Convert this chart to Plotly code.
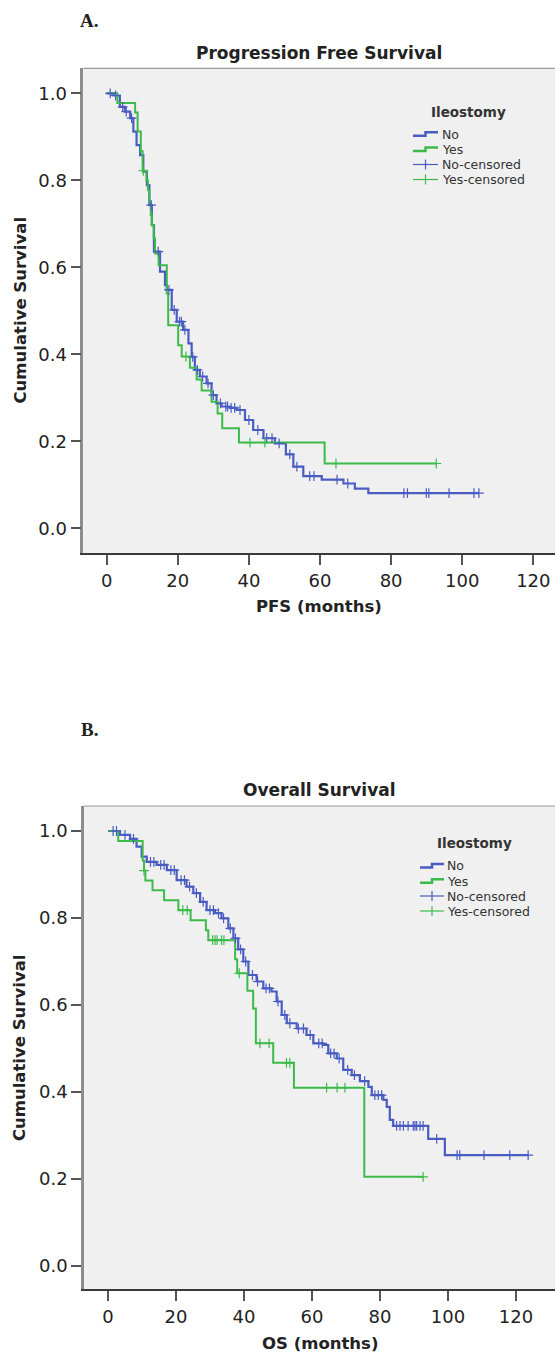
import numpy as np
import plotly.graph_objects as go

W, H = 555, 1357

# ---------------- DATA ----------------
# Panel A: Progression Free Survival
pfs_no_t = [0, 1.9, 3.7, 5.1, 6.6, 7.5, 8.4, 9.4, 10.3, 11.3, 12.0, 12.7, 13.3, 15.0, 16.4,
            16.9, 18.3, 19.7, 21.5, 23.0, 23.9, 24.8, 26.2, 28.1, 29.5, 30.9, 32.3, 34.7, 36.6,
            38.9, 41.2, 44.1, 47.3, 50.4, 52.5, 55.3, 60.5, 66.6, 69.8, 73.6]
pfs_no_s = [1.0, 0.995, 0.969, 0.958, 0.943, 0.912, 0.881, 0.858, 0.820, 0.789, 0.743, 0.697,
            0.636, 0.590, 0.559, 0.548, 0.502, 0.475, 0.456, 0.425, 0.394, 0.364, 0.349, 0.333,
            0.306, 0.287, 0.280, 0.277, 0.272, 0.249, 0.226, 0.207, 0.195, 0.170, 0.142, 0.120,
            0.112, 0.103, 0.091, 0.081]
pfs_no_end = 104.7
pfs_no_cens = [1.0, 2.5, 4.5, 5.5, 7.0, 12.5, 14.5, 17.5, 19.0, 20.5, 21.0, 22.0, 24.2, 25.5,
               27.0, 28.5, 30.0, 32.0, 33.5, 34.0, 35.0, 36.0, 37.5, 40.0, 42.5, 45.0, 46.5,
               48.5, 51.5, 53.5, 57.1, 58.3, 64.8, 67.8, 83.6, 84.6, 89.9, 90.6, 96.3, 103.3, 104.7]

pfs_yes_t = [0, 3.0, 8.0, 8.7, 9.6, 10.1, 11.2, 11.6, 12.0, 12.4, 12.7, 13.2, 13.6, 14.6, 16.9,
             17.3, 20.1, 21.1, 23.4, 25.3, 26.7, 29.5, 31.2, 32.5, 37.2, 61.3]
pfs_yes_s = [1.0, 0.978, 0.956, 0.912, 0.867, 0.822, 0.800, 0.778, 0.751, 0.720, 0.697, 0.667,
             0.632, 0.605, 0.540, 0.467, 0.421, 0.395, 0.369, 0.342, 0.317, 0.291, 0.264, 0.230,
             0.197, 0.149]
pfs_yes_end = 92.7
pfs_yes_cens = [10.3, 22.3, 40.3, 44.5, 64.5, 92.7]

# Panel B: Overall Survival
os_no_t = [0, 3.5, 6.5, 8.4, 9.9, 11.4, 14.3, 17.3, 20.2, 23.1, 25.1, 27.1, 29.0, 31.5, 33.4,
           35.4, 36.9, 38.3, 39.8, 41.3, 43.7, 45.7, 48.1, 49.6, 51.1, 52.6, 55.5, 58.4, 60.4,
           63.3, 64.8, 67.3, 69.2, 71.7, 74.1, 76.6, 77.6, 81.0, 82.0, 82.9, 83.9, 94.2, 99.1]
os_no_s = [1.0, 0.991, 0.982, 0.964, 0.941, 0.929, 0.922, 0.910, 0.887, 0.872, 0.857, 0.837,
           0.818, 0.811, 0.799, 0.776, 0.753, 0.728, 0.700, 0.669, 0.654, 0.638, 0.631, 0.608,
           0.577, 0.558, 0.546, 0.531, 0.512, 0.508, 0.489, 0.477, 0.451, 0.439, 0.425, 0.412,
           0.393, 0.382, 0.366, 0.336, 0.322, 0.292, 0.255]
os_no_end = 123.6
os_no_cens = [1.5, 2.5, 5.0, 7.5, 12.5, 13.5, 15.5, 16.5, 18.5, 19.5, 21.5, 22.5, 24.0, 26.0,
              28.0, 30.0, 31.0, 32.5, 34.0, 36.0, 37.5, 39.0, 40.5, 42.5, 44.0, 46.5, 47.5,
              50.0, 52.0, 53.5, 56.0, 57.5, 59.5, 62.0, 63.0, 65.5, 66.5, 68.0, 70.5, 72.5,
              75.5, 78.5, 79.5, 80.5, 84.9, 85.9, 86.9, 88.3, 89.8, 90.3, 90.8, 91.8, 92.7,
              96.7, 102.7, 103.5, 110.6, 118.2, 123.6]

os_yes_t = [0, 3.0, 10.2, 10.6, 11.0, 13.1, 16.5, 20.7, 24.3, 28.8, 29.5, 37.4, 38.0, 41.0,
            42.7, 43.5, 48.6, 54.7, 75.4]
os_yes_s = [1.0, 0.977, 0.932, 0.909, 0.886, 0.864, 0.841, 0.818, 0.795, 0.772, 0.749, 0.705,
            0.673, 0.633, 0.592, 0.512, 0.467, 0.410, 0.205]
os_yes_end = 92.7
os_yes_cens = [10.6, 22.0, 23.3, 30.8, 31.5, 32.1, 33.4, 34.1, 38.6, 44.7, 47.4, 52.5, 53.5,
               64.3, 67.4, 69.7, 92.7]

x_ticks = [0, 20, 40, 60, 80, 100, 120]
y_ticks = [0.0, 0.2, 0.4, 0.6, 0.8, 1.0]
y_ticktext = ["0.0", "0.2", "0.4", "0.6", "0.8", "1.0"]

legend_title = "Ileostomy"
legend_labels = ["No", "Yes", "No-censored", "Yes-censored"]

# ---------------- STYLE ----------------
BLUE = "#4a5cc2"
GREEN = "#3cbb4a"
TXT = "#222222"
FONT = "DejaVu Sans"


def px(x):
    return x / W


def py(y):
    return 1 - y / H


def km_line(t, s, t_end):
    return list(t) + [t_end], list(s) + [s[-1]]


def surv_at(t, s, times):
    idx = np.searchsorted(np.array(t), np.array(times), side="right") - 1
    return [s[i] for i in idx]


fig = go.Figure()


def add_panel(xa, ya, no_t, no_s, no_end, no_c, yes_t, yes_s, yes_end, yes_c):
    lx, ly = km_line(no_t, no_s, no_end)
    fig.add_trace(go.Scatter(x=lx, y=ly, mode="lines", line=dict(color=BLUE, width=2.2, shape="hv"),
                             xaxis=xa, yaxis=ya, showlegend=False, name="No"))
    lx, ly = km_line(yes_t, yes_s, yes_end)
    fig.add_trace(go.Scatter(x=lx, y=ly, mode="lines", line=dict(color=GREEN, width=2, shape="hv"),
                             xaxis=xa, yaxis=ya, showlegend=False, name="Yes"))
    fig.add_trace(go.Scatter(x=no_c, y=surv_at(no_t, no_s, no_c), mode="markers",
                             marker=dict(symbol="cross-thin", size=7, line=dict(color=BLUE, width=1.2)),
                             xaxis=xa, yaxis=ya, showlegend=False, name="No-censored"))
    fig.add_trace(go.Scatter(x=yes_c, y=surv_at(yes_t, yes_s, yes_c), mode="markers",
                             marker=dict(symbol="cross-thin", size=7, line=dict(color=GREEN, width=1.2)),
                             xaxis=xa, yaxis=ya, showlegend=False, name="Yes-censored"))


add_panel("x", "y", pfs_no_t, pfs_no_s, pfs_no_end, pfs_no_cens,
          pfs_yes_t, pfs_yes_s, pfs_yes_end, pfs_yes_cens)
add_panel("x2", "y2", os_no_t, os_no_s, os_no_end, os_no_cens,
          os_yes_t, os_yes_s, os_yes_end, os_yes_cens)

common = dict(showline=True, ticks="outside", ticklen=10, tickwidth=1.5, tickcolor="#555555",
              showgrid=False, zeroline=False, tickfont=dict(family=FONT, size=18, color=TXT))
xcommon = dict(linecolor="#3a3a3a", linewidth=2, tickvals=x_ticks, **common)
ycommon = dict(linecolor="#8c8c8c", linewidth=2.5, tickvals=y_ticks, ticktext=y_ticktext, **common)

fig.update_layout(
    width=W, height=H, margin=dict(l=0, r=0, t=0, b=0),
    paper_bgcolor="white", plot_bgcolor="#f0f0f0",
    font=dict(family=FONT, color=TXT),
    showlegend=False,
    xaxis=dict(domain=[px(83.3), 1], range=[-6.58, 126.1], anchor="y", **xcommon),
    yaxis=dict(domain=[py(553), py(68.3)], range=[-0.0568, 1.0575], anchor="x", **ycommon),
    xaxis2=dict(domain=[px(84), 1], range=[-7.06, 131.5], anchor="y2", **xcommon),
    yaxis2=dict(domain=[py(1289.3), py(806)], range=[-0.0536, 1.0575], anchor="x2", **ycommon),
)

shapes = []
# top border of each plot box
for xd, yd in (("x domain", "y domain"), ("x2 domain", "y2 domain")):
    shapes.append(dict(type="line", xref=xd, yref=yd, x0=0, x1=1, y0=1, y1=1,
                       line=dict(color="#9a9a9a", width=1.2)))

annotations = []


def ann(text, x, y, size, bold=False, xanchor="center", family=FONT, angle=0, color=TXT):
    annotations.append(dict(text=("<b>%s</b>" % text) if bold else text, x=px(x), y=py(y),
                            xref="paper", yref="paper", xanchor=xanchor, yanchor="middle",
                            showarrow=False, textangle=angle,
                            font=dict(family=family, size=size, color=color)))


# panel labels and titles
ann("A.", 78, 20, 19, bold=True, xanchor="left", family="Liberation Serif")
ann("B.", 78.6, 729.3, 19, bold=True, xanchor="left", family="Liberation Serif")
ann("Progression Free Survival", 319.4, 52.7, 17, bold=True)
ann("Overall Survival", 319.5, 790, 17, bold=True)
ann("Cumulative Survival", 19.5, 310.0, 16.5, bold=True, angle=-90)
ann("Cumulative Survival", 19.5, 1047.6, 16.5, bold=True, angle=-90)
ann("PFS (months)", 319, 606.7, 16.5, bold=True)
ann("OS (months)", 319.7, 1343, 16.5, bold=True)


def legend(title_cx, title_y, sx0, sx1, text_x, rows):
    ann(legend_title, title_cx, title_y, 13.5, bold=True, color="#333333")
    cols = [BLUE, GREEN, BLUE, GREEN]
    mid = (sx0 + sx1) / 2
    for i, (lab, ry) in enumerate(zip(legend_labels, rows)):
        c = cols[i]
        if i < 2:
            path = "M %f %f L %f %f L %f %f L %f %f" % (
                px(sx0), py(ry + 1.5), px(mid), py(ry + 1.5), px(mid), py(ry - 2), px(sx1), py(ry - 2))
            shapes.append(dict(type="path", xref="paper", yref="paper", path=path,
                               line=dict(color=c, width=2.5)))
        else:
            shapes.append(dict(type="line", xref="paper", yref="paper", x0=px(sx0), x1=px(sx1),
                               y0=py(ry), y1=py(ry), line=dict(color=c, width=1.2)))
            shapes.append(dict(type="line", xref="paper", yref="paper", x0=px(mid), x1=px(mid),
                               y0=py(ry - 5), y1=py(ry + 5), line=dict(color=c, width=1.2)))
        ann(lab, text_x, ry, 12.5, xanchor="left", color="#333333")


legend(468, 111.7, 413, 438, 439.5, [134.3, 149.5, 164.5, 179.5])
legend(474, 843.3, 420, 444, 445, [866, 881.3, 896, 911])

fig.update_layout(shapes=shapes, annotations=annotations)

fig.write_html("out.html", config={"displayModeBar": False},
               post_script="document.body.style.margin='0px';document.body.style.overflow='hidden';")
